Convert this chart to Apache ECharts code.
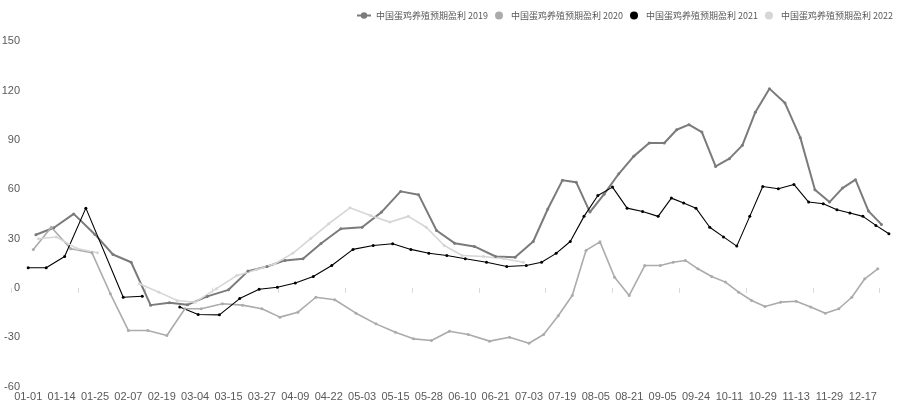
<!DOCTYPE html>
<html><head><meta charset="utf-8">
<script src="https://cdn.jsdelivr.net/npm/echarts@6/dist/echarts.min.js"></script>
<style>html,body{margin:0;padding:0;background:#fff}#c{width:900px;height:410px}</style>
</head><body><div id="c"></div>
<script>
// x-axis tick labels (mm-dd)
const tickLabels = ['01-01','01-14','01-25','02-07','02-19','03-04','03-15','03-27','04-09','04-22','05-03','05-15','05-28','06-10','06-21','07-03','07-19','08-05','08-21','09-05','09-24','10-11','10-29','11-13','11-29','12-17'];
const yMin = -60, yMax = 150, yStep = 30;

const seriesNames = ['中国蛋鸡养殖预期盈利 2019','中国蛋鸡养殖预期盈利 2020','中国蛋鸡养殖预期盈利 2021','中国蛋鸡养殖预期盈利 2022'];

const dates2019 = ['01-04','01-11','01-18','01-25','02-01','02-08','02-15','02-22','03-01','03-08','03-15','03-22','03-29','04-05','04-12','04-19','04-26','05-03','05-10','05-17','05-24','05-31','06-07','06-14','06-21','06-28','07-05','07-12','07-19','07-26','08-02','08-09','08-16','08-23','08-30','09-06','09-13','09-20','09-27','10-04','10-11','10-18','10-25','11-01','11-08','11-15','11-22','11-29','12-06','12-13','12-20','12-27'];
const values2019 = [32.3,36.6,45,32.5,20.3,15.6,-10.5,-9,-10.3,-5.2,-1.2,10.2,13,16.7,17.7,27,36,36.9,46.1,58.7,56.7,34.9,27.2,25.2,19.1,18.7,28.2,48,65.4,64.3,46.1,57,69.4,80,88.1,88.1,96.2,99.3,94.8,73.9,78.6,86.7,106.9,121.2,112.4,91.4,59.7,52.2,60.7,65.8,46.7,38.6];

const dates2020 = ['01-03','01-10','01-17','01-24','01-31','02-07','02-14','02-21','02-28','03-06','03-13','03-20','03-27','04-03','04-10','04-17','04-24','05-01','05-08','05-15','05-22','05-29','06-05','06-12','06-19','06-26','07-03','07-10','07-17','07-24','07-31','08-07','08-14','08-21','08-28','09-04','09-11','09-18','09-25','10-02','10-09','10-16','10-23','10-30','11-06','11-13','11-20','11-27','12-04','12-11','12-18','12-25'];
const values2020 = [23.4,36.9,23.8,21.4,-3.6,-25.9,-25.9,-29,-12.7,-12.7,-9.7,-10.5,-12.7,-17.8,-14.8,-5.7,-7.2,-15.4,-21.9,-27,-31,-32,-26.4,-28.4,-32.4,-30,-33.7,-28.4,-17,-4.6,22.8,28,6.5,-4.6,13.6,13.6,15.6,16.7,11.6,6.9,3.5,-2.6,-7.7,-11.3,-8.7,-8.1,-11.7,-15.4,-12.7,-5.7,5.5,11.6];

const dates2021 = ['01-01','01-08','01-15','01-22','02-05','02-12','02-19','02-26','03-05','03-12','03-19','03-26','04-02','04-09','04-16','04-23','04-30','05-07','05-14','05-21','05-28','06-04','06-11','06-18','06-25','07-02','07-09','07-16','07-23','07-30','08-06','08-13','08-20','08-27','09-03','09-10','09-17','09-24','10-01','10-08','10-15','10-22','10-29','11-05','11-12','11-19','11-26','12-03','12-10','12-17','12-24','12-31'];
const values2021 = [12.2,12.2,19.1,48.5,-5.7,-5.1,null,-11.7,-16.2,-16.4,-6.5,-0.8,0.4,3,6.9,13.6,23.4,25.8,26.8,23.4,21.1,19.7,17.7,15.6,13,13.6,15.6,21,28.2,43.5,56.2,61.3,48.5,46.5,43.5,54.6,51.6,48.5,36.9,31,25.4,43.5,61.7,60.3,62.9,52.2,51.2,47.5,45.5,43.5,38,32.9];

const dates2022 = ['01-05','01-12','01-19','01-26','02-02','02-11','02-18','02-25','03-04','03-11','03-18','03-25','04-01','04-08','04-15','04-22','04-29','05-06','05-13','05-20','05-27','06-03','06-10','06-17','06-24','07-01'];
const values2022 = [29.9,30.9,24,21.4,null,2.5,-2.6,-7.7,-8.7,-0.5,7.5,11,14.7,21,30,39,48.7,44,40,43.5,36.9,25.8,19.7,19.1,17.7,15.6];

const colors = ['#7b7b7b','#ababab','#000000','#d6d6d6'];

// date -> position on the category band scale (label k centred at k+0.5)
const monthStart = [0,31,59,90,120,151,181,212,243,273,304,334];
function doy(s){const m=+s.slice(0,2), d=+s.slice(3,5); return monthStart[m-1]+d;}
const tickDoy = tickLabels.map(doy);
function pos(s){
  const t = doy(s);
  const n = tickDoy.length;
  let k = 0;
  while (k < n-1 && t >= tickDoy[k+1]) k++;
  const span = k < n-1 ? tickDoy[k+1]-tickDoy[k] : tickDoy[n-1]-tickDoy[n-2];
  return k + 0.5 + (t - tickDoy[k]) / span;
}
function build(dates, vals){ return dates.map((d,i)=>[pos(d), vals[i]===null ? '-' : vals[i]]); }

const allDates = [dates2019, dates2020, dates2021, dates2022];
const allVals = [values2019, values2020, values2021, values2022];
const widths = [2, 1.6, 1.1, 1.6];

const cats = tickLabels.concat(['']);
const chart = echarts.init(document.getElementById('c'), null, {renderer:'canvas'});
chart.setOption({
  animation: false,
  backgroundColor: '#fff',
  textStyle: {fontFamily: 'Liberation Sans, Arial, sans-serif'},
  legend: {
    right: 2, top: 6, itemGap: 7, itemWidth: 14, itemHeight: 8,
    textStyle: {fontSize: 9, color: '#595959', fontFamily: 'Noto Sans CJK SC'},
    data: [
      {name: seriesNames[0]},
      {name: seriesNames[1], icon: 'circle'},
      {name: seriesNames[2], icon: 'circle'},
      {name: seriesNames[3], icon: 'circle'}
    ]
  },
  grid: {left: 11.5, right: -13, top: 41.3, bottom: 23.5, containLabel: false, outerBoundsMode: 'none'},
  xAxis: [
    {type: 'category', data: cats, boundaryGap: true, position: 'bottom',
     axisLine: {show: false, onZero: false}, axisTick: {show: false},
     axisLabel: {interval: 0, fontSize: 11, color: '#595959', margin: 5}},
    {type: 'category', data: cats, boundaryGap: true, position: 'bottom',
     axisLine: {show: false, onZero: true}, axisTick: {show: true, length: 5, lineStyle: {color: '#d9d9d9'}},
     axisLabel: {show: false}},
    {type: 'value', min: 0, max: cats.length, show: false}
  ],
  yAxis: {
    type: 'value', min: yMin, max: yMax, interval: yStep,
    axisLine: {show: false}, axisTick: {show: false}, splitLine: {show: false},
    axisLabel: {fontSize: 11, color: '#595959', margin: -8.5}
  },
  series: seriesNames.map((n,i)=>({
    name: n, type: 'line', xAxisIndex: 2, yAxisIndex: 0,
    data: build(allDates[i], allVals[i]),
    connectNulls: false,
    symbol: 'circle', symbolSize: 3, showSymbol: true,
    lineStyle: {color: colors[i], width: widths[i]},
    itemStyle: {color: colors[i]},
    emphasis: {disabled: true}
  }))
});
</script></body></html>
